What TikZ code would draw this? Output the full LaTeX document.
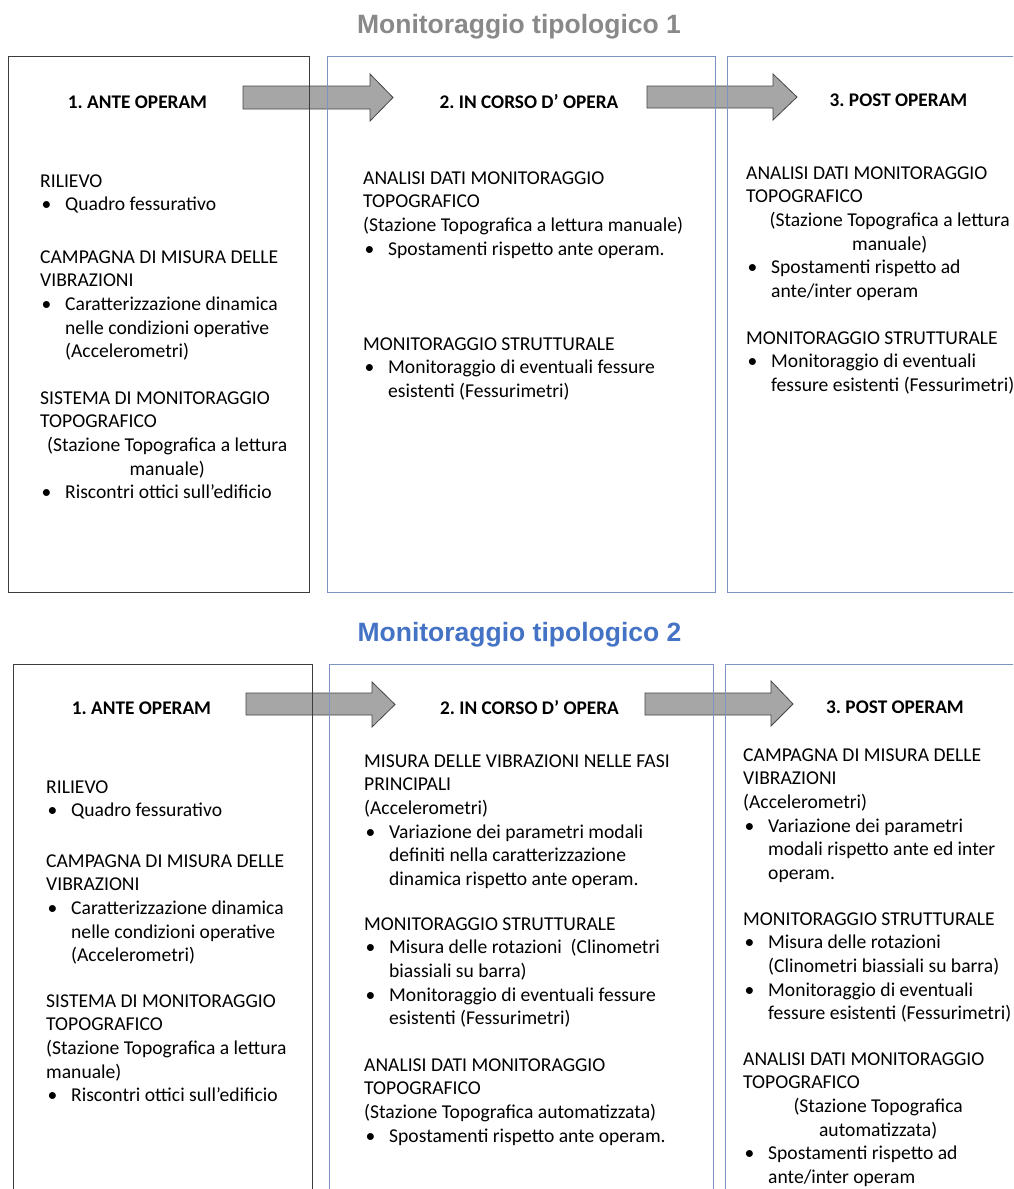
\documentclass[tikz,border=0pt]{standalone}
\usepackage{fontspec}
\setmainfont{Carlito}
\newfontfamily\titlefont{Liberation Sans}
\definecolor{boxgray}{RGB}{60,60,60}
\definecolor{boxblue}{RGB}{125,148,195}
\definecolor{arrowfill}{RGB}{166,166,166}
\definecolor{arrowline}{RGB}{70,70,70}
\definecolor{titlegray}{RGB}{137,137,137}
\definecolor{titleblue}{RGB}{68,114,196}
\newcommand\bulx{\makebox[25pt][l]{\hspace{1.5pt}•}}
\newcommand\indx{\hspace*{25pt}}
\begin{document}
\frenchspacing
\begin{tikzpicture}[x=1pt,y=-1pt,
  txt/.style={anchor=north west, align=left, inner sep=0pt, yshift=11.8pt,
    font=\fontsize{19.6}{23.7}\selectfont\frenchspacing, execute at begin node=\strut},
  hdr/.style={anchor=base, inner sep=0pt, font=\fontsize{19.3}{23.7}\selectfont\bfseries\frenchspacing},
  ttl/.style={anchor=base, inner sep=0pt, font=\titlefont\bfseries\fontsize{26.5}{30}\selectfont},
  boxg/.style={draw=boxgray, line width=1pt, anchor=north west, inner sep=0pt},
  boxb/.style={draw=boxblue, line width=1pt, anchor=north west, inner sep=0pt},
  blockarrow/.style={fill=arrowfill, draw=arrowline, line width=0.8pt}]
\useasboundingbox (0,0) rectangle (1013,1189);
\clip (0,0) rectangle (1013,1189);
\fill[white] (0,0) rectangle (1013,1189);

% titles
\node[ttl, text=titlegray] (t1) at (519,33) {Monitoraggio tipologico 1};
\node[ttl, text=titleblue] (t2) at (519.5,641) {Monitoraggio tipologico 2};

% block arrows (drawn below the box frames)
\draw[blockarrow] (243,86) -- (370,86) -- (370,74) -- (393,97.5) -- (370,121) -- (370,109) -- (243,109) -- cycle;
\draw[blockarrow] (647,86) -- (773,86) -- (773,74) -- (797,97) -- (773,120) -- (773,108) -- (647,108) -- cycle;
\draw[blockarrow] (246,693) -- (372,693) -- (372,682) -- (395,704.5) -- (372,727) -- (372,715) -- (246,715) -- cycle;
\draw[blockarrow] (645,693) -- (771,693) -- (771,681) -- (793,704) -- (771,726) -- (771,715) -- (645,715) -- cycle;

% boxes
\node[boxg, minimum width=301pt, minimum height=536pt] (a1) at (8,56) {};
\node[boxb, minimum width=388pt, minimum height=536pt] (a2) at (327,56) {};
\node[boxb, minimum width=320pt, minimum height=536pt] (a3) at (727,56) {};
\node[boxg, minimum width=299pt, minimum height=560pt] (b1) at (13,664) {};
\node[boxb, minimum width=384pt, minimum height=560pt] (b2) at (329,664) {};
\node[boxb, minimum width=320pt, minimum height=560pt] (b3) at (725,664) {};

% headers
\node[hdr] (a1h) at (137.5,108) {1. ANTE OPERAM};
\node[hdr] (a2h) at (529,108) {2. IN CORSO D’ OPERA};
\node[hdr] (a3h) at (898.5,106) {3. POST OPERAM};
\node[hdr] (b1h) at (141.5,714) {1. ANTE OPERAM};
\node[hdr] (b2h) at (529.5,714) {2. IN CORSO D’ OPERA};
\node[hdr] (b3h) at (895,713) {3. POST OPERAM};

% top box 1
\node[txt] (a1s1) at (40,186) {RILIEVO\\ \bulx Quadro fessurativo};
\node[txt] (a1s2) at (40,262) {CAMPAGNA DI MISURA DELLE\\VIBRAZIONI\\ \bulx Caratterizzazione dinamica\\ \indx nelle condizioni operative\\ \indx (Accelerometri)};
\node[txt] (a1s3) at (40,403) {SISTEMA DI MONITORAGGIO\\TOPOGRAFICO\\ \makebox[254pt][c]{(Stazione Topografica a lettura}\\ \makebox[254pt][c]{manuale)}\\ \bulx Riscontri ottici sull’edificio};

% top box 2
\node[txt] (a2s1) at (363,183) {ANALISI DATI MONITORAGGIO\\TOPOGRAFICO\\(Stazione Topografica a lettura manuale)\\ \bulx Spostamenti rispetto ante operam.};
\node[txt] (a2s2) at (363,349) {MONITORAGGIO STRUTTURALE\\ \bulx Monitoraggio di eventuali fessure\\ \indx esistenti (Fessurimetri)};

% top box 3
\node[txt] (a3s1) at (746,178) {ANALISI DATI MONITORAGGIO\\TOPOGRAFICO\\ \makebox[287pt][c]{(Stazione Topografica a lettura}\\ \makebox[287pt][c]{manuale)}\\ \bulx Spostamenti rispetto ad\\ \indx ante/inter operam};
\node[txt] (a3s2) at (746,343) {MONITORAGGIO STRUTTURALE\\ \bulx Monitoraggio di eventuali\\ \indx fessure esistenti (Fessurimetri)};

% bottom box 1
\node[txt] (b1s1) at (46,792) {RILIEVO\\ \bulx Quadro fessurativo};
\node[txt] (b1s2) at (46,866) {CAMPAGNA DI MISURA DELLE\\VIBRAZIONI\\ \bulx Caratterizzazione dinamica\\ \indx nelle condizioni operative\\ \indx (Accelerometri)};
\node[txt] (b1s3) at (46,1006) {SISTEMA DI MONITORAGGIO\\TOPOGRAFICO\\(Stazione Topografica a lettura\\manuale)\\ \bulx Riscontri ottici sull’edificio};

% bottom box 2
\node[txt] (b2s1) at (364,766) {MISURA DELLE VIBRAZIONI NELLE FASI\\PRINCIPALI\\(Accelerometri)\\ \bulx Variazione dei parametri modali\\ \indx definiti nella caratterizzazione\\ \indx dinamica rispetto ante operam.};
\node[txt] (b2s2) at (364,929) {MONITORAGGIO STRUTTURALE\\ \bulx Misura delle rotazioni\ \ (Clinometri\\ \indx biassiali su barra)\\ \bulx Monitoraggio di eventuali fessure\\ \indx esistenti (Fessurimetri)};
\node[txt] (b2s3) at (364,1070) {ANALISI DATI MONITORAGGIO\\TOPOGRAFICO\\(Stazione Topografica automatizzata)\\ \bulx Spostamenti rispetto ante operam.};

% bottom box 3
\node[txt] (b3s1) at (743,760) {CAMPAGNA DI MISURA DELLE\\VIBRAZIONI\\(Accelerometri)\\ \bulx Variazione dei parametri\\ \indx modali rispetto ante ed inter\\ \indx operam.};
\node[txt] (b3s2) at (743,924) {MONITORAGGIO STRUTTURALE\\ \bulx Misura delle rotazioni\\ \indx (Clinometri biassiali su barra)\\ \bulx Monitoraggio di eventuali\\ \indx fessure esistenti (Fessurimetri)};
\node[txt] (b3s3) at (743,1064) {ANALISI DATI MONITORAGGIO\\TOPOGRAFICO\\ \makebox[270pt][c]{(Stazione Topografica}\\ \makebox[270pt][c]{automatizzata)}\\ \bulx Spostamenti rispetto ad\\ \indx ante/inter operam};
\end{tikzpicture}
\end{document}
